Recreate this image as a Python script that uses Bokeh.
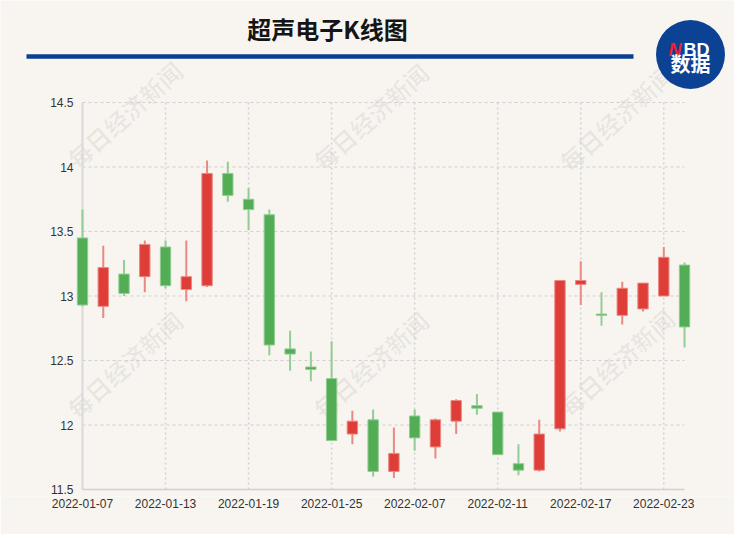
from bokeh.plotting import figure
from bokeh.models import Range1d, FixedTicker, NumeralTickFormatter, ColumnDataSource
from bokeh.core.properties import value
from bokeh.embed import file_html
from bokeh.resources import INLINE

# ---------------- data ----------------
dates = ["2022-01-07", "2022-01-10", "2022-01-11", "2022-01-12", "2022-01-13",
         "2022-01-14", "2022-01-17", "2022-01-18", "2022-01-19", "2022-01-20",
         "2022-01-21", "2022-01-24", "2022-01-25", "2022-01-26", "2022-01-27",
         "2022-01-28", "2022-02-07", "2022-02-08", "2022-02-09", "2022-02-10",
         "2022-02-11", "2022-02-14", "2022-02-15", "2022-02-16", "2022-02-17",
         "2022-02-18", "2022-02-21", "2022-02-22", "2022-02-23", "2022-02-24"]
open_p = [13.45, 12.92, 13.17, 13.15, 13.38, 13.05, 13.08, 13.95, 13.75, 13.63,
          12.59, 12.45, 12.36, 11.93, 12.04, 11.64, 12.07, 11.83, 12.03, 12.15,
          12.10, 11.70, 11.65, 11.97, 13.09, 12.86, 12.85, 12.90, 13.00, 13.24]
close_p = [12.93, 13.22, 13.02, 13.40, 13.08, 13.15, 13.95, 13.78, 13.67, 12.62,
           12.55, 12.43, 11.88, 12.03, 11.64, 11.78, 11.90, 12.04, 12.19, 12.13,
           11.77, 11.65, 11.93, 13.12, 13.12, 12.85, 13.06, 13.10, 13.30, 12.76]
high_p = [13.67, 13.39, 13.28, 13.43, 13.43, 13.43, 14.05, 14.04, 13.84, 13.67,
          12.73, 12.57, 12.65, 12.11, 12.12, 11.98, 12.12, 12.05, 12.20, 12.24,
          12.10, 11.85, 12.04, 13.12, 13.27, 13.03, 13.11, 13.10, 13.38, 13.26]
low_p = [12.92, 12.83, 13.00, 13.03, 13.06, 12.96, 13.07, 13.73, 13.51, 12.54,
         12.42, 12.34, 11.88, 11.85, 11.60, 11.59, 11.80, 11.74, 11.93, 12.08,
         11.77, 11.61, 11.64, 11.95, 12.93, 12.77, 12.78, 12.88, 13.00, 12.60]
y_ticks = [11.5, 12.0, 12.5, 13.0, 13.5, 14.0, 14.5]
label_step = 4
title_text = "超声电子K线图"
watermark_text = "每日经济新闻"

# ---------------- styles / layout ----------------
BG = "#f8f5f0"
RED, GREEN = "#de3e37", "#52ad55"
RED_L, GREEN_L = "#ea8883", "#93cc95"
BLUE = "#0b3f91"
W, H = 734, 534
BORDER_B = 38
frame_w = W
frame_h = H - BORDER_B
px_idx = 20.76          # pixels per category step
idx0_off = 82           # pixels from frame left to first category
px_val = 129.0          # pixels per 1.0 of price
pad_bottom = 7          # pixels of frame below the lowest tick

x_start = -idx0_off / px_idx
x_end = x_start + frame_w / px_idx
y_start = y_ticks[0] - pad_bottom / px_val
y_end = y_start + frame_h / px_val

n = len(dates)
idx = list(range(n))
up = [c > o for o, c in zip(open_p, close_p)]
src = ColumnDataSource(dict(
    x=idx,
    top=[max(o, c) for o, c in zip(open_p, close_p)],
    bottom=[min(o, c) for o, c in zip(open_p, close_p)],
    high=high_p, low=low_p,
    fill=[RED if u else GREEN for u in up],
    edge=[RED_L if u else GREEN_L for u in up],
))

p = figure(width=W, height=H, x_range=Range1d(x_start, x_end),
           y_range=Range1d(y_start, y_end), output_backend="svg",
           toolbar_location=None, min_border_left=0, min_border_right=0,
           min_border_top=0, min_border_bottom=BORDER_B,
           background_fill_color=BG, border_fill_color=BG,
           outline_line_color=None)
p.grid.visible = False
p.extra_x_ranges = {"px": Range1d(8, 742)}
p.extra_y_ranges = {"px": Range1d(8 + frame_h, 8)}

# watermarks
wm_x = [132, 378, 624, 132, 378, 624]
wm_y = [122, 124, 125, 372, 372, 370]
p.text(x=wm_x, y=wm_y, text=[watermark_text] * len(wm_x), angle=42,
       angle_units="deg", text_align="center", text_baseline="middle",
       text_font=value("Noto Sans CJK SC"), text_font_style="bold",
       text_font_size="24px", text_color="#000000", text_alpha=0.06,
       x_range_name="px", y_range_name="px")

# header
p.text(x=[335], y=[36], text=[title_text], text_align="center",
       text_baseline="middle", text_font=value("Noto Sans CJK SC"),
       text_font_style="bold", text_font_size="24px", text_color="#151515",
       x_range_name="px", y_range_name="px")
p.segment(x0=[34], x1=[641], y0=[64], y1=[64], line_color=BLUE, line_width=4.3,
          x_range_name="px", y_range_name="px")
p.scatter(x=[698], y=[62], size=69, marker="circle", fill_color="#0c4294",
          line_color=None, x_range_name="px", y_range_name="px")
p.text(x=[676], y=[57], text=["N"], text_align="left", text_baseline="alphabetic",
       text_font=value("Liberation Sans"), text_font_style="bold italic",
       text_font_size="18px", text_color="#f0202c", x_range_name="px", y_range_name="px")
p.text(x=[691], y=[57], text=["BD"], text_align="left", text_baseline="alphabetic",
       text_font=value("Liberation Sans"), text_font_style="bold",
       text_font_size="18px", text_color="#ffffff", x_range_name="px", y_range_name="px")
p.text(x=[698], y=[71], text=["数据"], text_align="center", text_baseline="middle",
       text_font=value("Noto Sans CJK SC"), text_font_style="bold",
       text_font_size="20px", text_color="#ffffff", x_range_name="px", y_range_name="px")

# grid lines (horizontal dashed, vertical dotted)
tick_idx = list(range(0, n, label_step))
p.segment(x0=[0] * (len(y_ticks) - 1), x1=[n - 1] * (len(y_ticks) - 1),
          y0=y_ticks[1:], y1=y_ticks[1:], line_color="#cfcfcf", line_width=1,
          line_dash="3 3")
p.segment(x0=tick_idx[1:], x1=tick_idx[1:], y0=[y_ticks[0]] * (len(tick_idx) - 1),
          y1=[y_ticks[-1]] * (len(tick_idx) - 1), line_color="#d2d2d2",
          line_width=1.5, line_dash="2 3")
# axis lines
p.segment(x0=[0], x1=[0], y0=[y_ticks[0]], y1=[y_ticks[-1]], line_color="#dadada", line_width=2)
p.segment(x0=[0], x1=[n - 1], y0=[y_ticks[0]], y1=[y_ticks[0]], line_color="#d0d0d0", line_width=1.5)

# candles
p.segment(x0="x", x1="x", y0="low", y1="high", line_color="edge", line_width=2, source=src)
p.vbar(x="x", top="top", bottom="bottom", width=0.5, fill_color="fill",
       line_color="edge", line_width=1, source=src)

# axes
p.yaxis.fixed_location = 0
p.yaxis.ticker = FixedTicker(ticks=y_ticks)
p.yaxis.formatter = NumeralTickFormatter(format="0.[0]")
p.xaxis.ticker = FixedTicker(ticks=tick_idx)
p.xaxis.major_label_overrides = {i: dates[i] for i in tick_idx}
for ax in (p.xaxis[0], p.yaxis[0]):
    ax.axis_line_color = None
    ax.major_tick_line_color = None
    ax.minor_tick_line_color = None
    ax.major_label_text_font = "Liberation Sans"
    ax.major_label_text_font_size = "12px"
    ax.major_label_text_color = "#333333"
p.yaxis.major_label_standoff = 3
p.xaxis.major_label_standoff = -4

open("out.html", "w").write(file_html(p, INLINE))
